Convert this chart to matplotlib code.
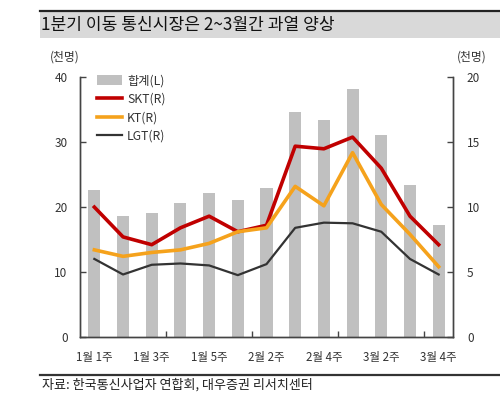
import matplotlib
matplotlib.use("Agg")
import matplotlib.pyplot as plt
from matplotlib.lines import Line2D
from matplotlib.patches import Patch, Rectangle
import numpy as np

plt.rcParams['font.family'] = ['Noto Sans CJK KR', 'DejaVu Sans']

categories = ["1월 1주", "1월 2주", "1월 3주", "1월 4주", "1월 5주", "2월 1주", "2월 2주",
              "2월 3주", "2월 4주", "3월 1주", "3월 2주", "3월 3주", "3월 4주"]
total = [22.7, 18.7, 19.1, 20.7, 22.1, 21.1, 22.9, 34.7, 33.4, 38.3, 31.2, 23.4, 17.3]
skt = [10.0, 7.7, 7.1, 8.4, 9.3, 8.1, 8.6, 14.7, 14.5, 15.4, 13.0, 9.3, 7.1]
kt = [6.7, 6.2, 6.5, 6.7, 7.2, 8.1, 8.4, 11.6, 10.1, 14.2, 10.2, 7.9, 5.4]
lgt = [6.0, 4.8, 5.55, 5.65, 5.5, 4.75, 5.6, 8.4, 8.8, 8.75, 8.1, 6.0, 4.8]
label_idx = [0, 2, 4, 6, 8, 10, 12]
left_ticks = [0, 10, 20, 30, 40]
right_ticks = [0, 5, 10, 15, 20]

fig = plt.figure(figsize=(5.0, 4.09), dpi=100)

# title band
fig.add_artist(Rectangle((40/500, 1-38/409), 460/500, 26/409, transform=fig.transFigure,
                         facecolor='#d9d9d9', edgecolor='none'))
fig.add_artist(Line2D([40/500, 1.0], [1-10.5/409, 1-10.5/409], transform=fig.transFigure,
                      color='#222222', lw=1.6))
fig.text(41/500, 1-25/409, "1분기 이동 통신시장은 2~3월간 과열 양상", fontsize=12.3,
         fontweight='medium', va='center', ha='left', color='#111111')

# bottom line and source
fig.add_artist(Line2D([40/500, 1.0], [1-374.5/409, 1-374.5/409], transform=fig.transFigure,
                      color='#333333', lw=1.6))
fig.text(42/500, 1-385/409, "자료: 한국통신사업자 연합회, 대우증권 리서치센터", fontsize=9.4,
         va='center', ha='left', color='#222222')

ax = fig.add_axes([80/500, 1-336.7/409, 373/500, (336.7-77.5)/409])
x = np.arange(len(categories))
ax.bar(x, total, width=0.42, color='#c0c0c0', zorder=1)
ax.set_xlim(-0.5, len(categories) - 0.5)
ax.set_ylim(0, 40)
ax.set_yticks(left_ticks)

ax2 = ax.twinx()
ax2.plot(x, skt, color='#c00000', lw=2.6, zorder=3)
ax2.plot(x, kt, color='#f5a21c', lw=2.6, zorder=3)
ax2.plot(x, lgt, color='#333333', lw=1.6, zorder=3)
ax2.set_ylim(0, 20)
ax2.set_yticks(right_ticks)

for a in (ax, ax2):
    a.spines['top'].set_visible(False)
    for s in ('left', 'right', 'bottom'):
        a.spines[s].set_color('#444444')
        a.spines[s].set_linewidth(1.0)
    a.patch.set_visible(False)

ax.tick_params(axis='y', direction='in', length=4, width=1, color='#444444',
               labelsize=8.5, labelcolor='#333333', pad=9)
ax2.tick_params(axis='y', direction='in', length=4, width=1, color='#444444',
                labelsize=8.5, labelcolor='#333333', pad=10)

ax.set_xticks([2.5, 5.5, 8.5, 11.5])
ax.set_xticklabels([])
ax.tick_params(axis='x', which='major', direction='in', length=4, width=1, color='#444444')
ax.set_xticks(label_idx, minor=True)
ax.set_xticklabels([categories[i] for i in label_idx], minor=True)
ax.tick_params(axis='x', which='minor', length=0, labelsize=8.3, labelcolor='#333333', pad=10)

fig.text(65/500, 1-57/409, "(천명)", fontsize=8.5, ha='center', va='center', color='#333333')
fig.text(472/500, 1-57/409, "(천명)", fontsize=8.5, ha='center', va='center', color='#333333')

handles = [Patch(facecolor='#c0c0c0', edgecolor='none'),
           Line2D([], [], color='#c00000', lw=2.6),
           Line2D([], [], color='#f5a21c', lw=2.6),
           Line2D([], [], color='#333333', lw=1.6)]
labels = ["합계(L)", "SKT(R)", "KT(R)", "LGT(R)"]
leg = ax2.legend(handles, labels, loc='upper left', bbox_to_anchor=(0.015, 1.055),
                 frameon=False, fontsize=8.8, handlelength=2.1, handleheight=0.8,
                 labelspacing=0.45, handletextpad=0.4, labelcolor='#333333')

fig.savefig("out.png", dpi=100)
